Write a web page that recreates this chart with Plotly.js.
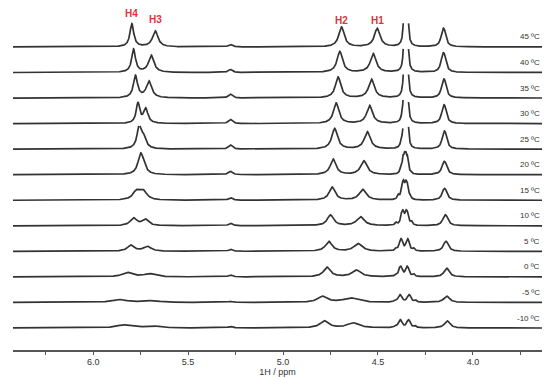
<!DOCTYPE html>
<html><head><meta charset="utf-8">
<script src="https://cdn.plot.ly/plotly-3.0.1.min.js"></script>
<style>html,body{margin:0;padding:0;background:#fff}#chart{width:550px;height:378px}</style>
</head><body><div id="chart"></div>
<script>
// Temperatures, top row first
const tempLabels = ['45 ºC','40 ºC','35 ºC','30 ºC','25 ºC','20 ºC','15 ºC','10 ºC','5 ºC','0 ºC','-5 ºC','-10 ºC'];

// H4 (left of the pair near 5.75 ppm)
const h4Ppm    = [5.796,5.787,5.777,5.764,5.758,5.751,5.772,5.787,5.801,5.822,5.860,5.840];
const h4Height = [23,23,22,20,20.5,17,8.5,7.6,6.0,4.4,2.8,3.0];
const h4Width  = [0.012,0.012,0.013,0.011,0.013,0.016,0.022,0.020,0.022,0.030,0.045,0.040];
// H3
const h3Ppm    = [5.673,5.694,5.706,5.723,5.735,5.738,5.736,5.726,5.714,5.703,5.690,5.690];
const h3Height = [16,17,16.5,14.5,11,7,8.5,6.3,4.7,3.1,1.6,2.1];
const h3Width  = [0.017,0.017,0.017,0.014,0.016,0.018,0.022,0.020,0.024,0.035,0.050,0.045];
// small signal near 5.28 ppm
const p528Ppm    = [5.277,5.277,5.277,5.277,5.277,5.277,5.277,5.277,5.277,5.277,5.277,5.277];
const p528Height = [2.5,3,3.8,4.2,4.2,3.3,2.6,2.6,2,2,1,1.6];
// H2
const h2Ppm    = [4.692,4.701,4.710,4.720,4.728,4.736,4.741,4.750,4.759,4.768,4.792,4.782];
const h2Height = [20,21,21,20.5,20.5,15.5,13,10.8,9.8,9.6,6,7];
const h2Width  = [0.017,0.017,0.017,0.017,0.018,0.018,0.019,0.020,0.021,0.022,0.030,0.027];
// H1
const h1Ppm    = [4.504,4.525,4.534,4.544,4.556,4.574,4.580,4.592,4.604,4.613,4.644,4.629];
const h1Height = [18.3,18.7,18.7,18,17.3,13.7,10.7,9,7.7,6.7,4.4,5];
const h1Width  = [0.018,0.018,0.018,0.018,0.019,0.020,0.022,0.024,0.026,0.028,0.045,0.037];
// multiplet group near 4.36 ppm: two doublets + outer shoulders
const grpLeftPpm  = [4.358,4.358,4.358,4.359,4.360,4.364,4.369,4.371,4.379,4.381,4.384,4.383];
const grpRightPpm = [4.348,4.348,4.348,4.348,4.347,4.349,4.350,4.349,4.344,4.346,4.336,4.339];
const grpHeight   = [30,30,30,28,25,13.3,11.9,9,7.3,6.2,4.4,4.6];
const grpWidth    = [0.005,0.005,0.005,0.005,0.005,0.005,0.006,0.007,0.008,0.008,0.009,0.009];
const shLeftPpm     = [4.372,4.372,4.372,4.372,4.376,4.380,4.393,4.405,4.405,4.407,4.410,4.409];
const shLeftHeight  = [0,0,0,3,5,4.5,4,2.5,2,1.5,1.5,1.5];
const shRightPpm    = [4.330,4.330,4.330,4.330,4.330,4.330,4.332,4.324,4.312,4.312,4.302,4.305];
const shRightHeight = [0,0,0,0,0,1.5,3,3.5,2.5,2.5,1.8,1.8];
// doublet near 4.15 ppm (observed top heights)
const p415Ppm    = [4.155,4.155,4.153,4.152,4.150,4.150,4.149,4.145,4.142,4.138,4.138,4.135];
const p415Height = [18.7,19.7,19,18.7,18,13.3,11.7,11,10,8.7,6.3,7];
const p415Width  = [0.011,0.011,0.011,0.011,0.011,0.012,0.012,0.013,0.013,0.014,0.016,0.015];

const xMin = 6.422, xMax = 3.636;
const rowBase = 22, rowStep = 25.55, clipH = 23.7;
const J = 0.008, J415 = 0.010;

const lor = (x, c, g) => 1 / (1 + ((x - c) / g) ** 2);
const dbl = (x, c, g, j) => lor(x, c - j / 2, g) + lor(x, c + j / 2, g);

const nPts = Math.round((xMin - xMax) / 0.001);
const xs = [];
for (let k = 0; k <= nPts; k++) xs.push(+(xMin - k * 0.001).toFixed(4));

const traces = [];
const annotations = [];
tempLabels.forEach((lab, i) => {
  const base = rowBase + rowStep * (tempLabels.length - 1 - i);
  const n415 = dbl(p415Ppm[i], p415Ppm[i], p415Width[i], J415);
  const ys = xs.map(x => {
    let v = h4Height[i] * lor(x, h4Ppm[i], h4Width[i])
          + h3Height[i] * lor(x, h3Ppm[i], h3Width[i])
          + p528Height[i] * lor(x, p528Ppm[i], 0.012)
          + h2Height[i] * lor(x, h2Ppm[i], h2Width[i])
          + h1Height[i] * lor(x, h1Ppm[i], h1Width[i])
          + grpHeight[i] * (dbl(x, grpLeftPpm[i], grpWidth[i], J) + dbl(x, grpRightPpm[i], grpWidth[i], J))
          + shLeftHeight[i] * lor(x, shLeftPpm[i], 0.006)
          + shRightHeight[i] * lor(x, shRightPpm[i], 0.006)
          + p415Height[i] * dbl(x, p415Ppm[i], p415Width[i], J415) / n415;
    return v > clipH ? null : base + v;
  });
  traces.push({x: xs, y: ys, type: 'scatter', mode: 'lines', connectgaps: false,
    line: {color: '#333333', width: 1.7}, hoverinfo: 'skip', showlegend: false});
  annotations.push({xref: 'paper', x: 1.0, xanchor: 'right', yref: 'y', y: base + 10, yanchor: 'middle',
    text: lab, showarrow: false, font: {family: 'Liberation Sans, Arial, sans-serif', size: 8, color: '#333'}});
});

const topBase = rowBase + rowStep * (tempLabels.length - 1);
const peakLabels = [['H4', h4Ppm[0], 33], ['H3', h3Ppm[0], 27], ['H2', h2Ppm[0], 26.3], ['H1', h1Ppm[0], 26]];
peakLabels.forEach(([t, x, lift]) => annotations.push({
  xref: 'x', x: x, yref: 'y', y: topBase + lift, yanchor: 'middle', xanchor: 'center',
  text: '<b>' + t + '</b>', showarrow: false,
  font: {family: 'Liberation Sans, Arial, sans-serif', size: 10, color: '#e0323c'}}));

const layout = {
  width: 550, height: 378,
  margin: {l: 13, r: 8, t: 8, b: 28},
  paper_bgcolor: '#fff', plot_bgcolor: '#fff',
  xaxis: {range: [xMin, xMax], showgrid: false, zeroline: false,
    showline: true, linecolor: '#555', linewidth: 1.5,
    tick0: 0, dtick: 0.5, tickformat: '.1f', ticks: 'outside', ticklen: 3, tickcolor: '#555',
    minor: {dtick: 0.25, ticks: 'outside', ticklen: 3, tickcolor: '#555'},
    tickfont: {family: 'Liberation Sans, Arial, sans-serif', size: 9, color: '#333'},
    title: {text: '1H / ppm', standoff: 0, font: {family: 'Liberation Sans, Arial, sans-serif', size: 9, color: '#333'}}},
  yaxis: {visible: false, range: [0, 342], fixedrange: true},
  annotations: annotations
};
Plotly.newPlot('chart', traces, layout, {staticPlot: true, displayModeBar: false});
</script></body></html>
